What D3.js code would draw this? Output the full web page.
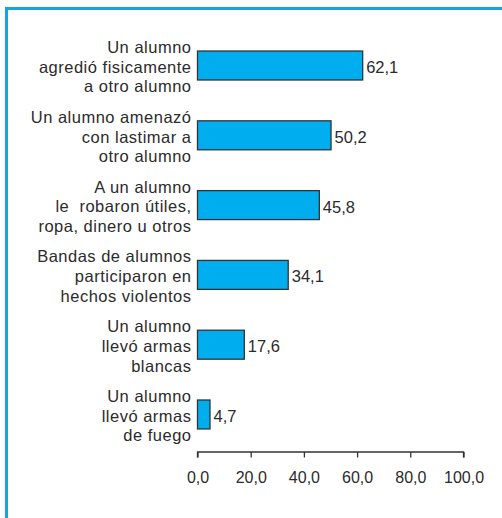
<!DOCTYPE html>
<head>
    <script src="https://d3js.org/d3.v7.min.js"></script>
</head>
<style>
body {
    margin: 0;
    font-family: "Liberation Sans", Arial, Helvetica, sans-serif;
}
text {
    fill: #2b2b2b;
}
.lbl {
    white-space: pre;
    letter-spacing: 0.5px;
}
</style>
<body>
    <svg></svg>
</body>
<script>

    // Data
    var labels = [
        ["Un alumno", "agredió fisicamente", "a otro alumno"],
        ["Un alumno amenazó", "con lastimar a", "otro alumno"],
        ["A un alumno", "le  robaron útiles,", "ropa, dinero u otros"],
        ["Bandas de alumnos", "participaron en", "hechos violentos"],
        ["Un alumno", "llevó armas", "blancas"],
        ["Un alumno", "llevó armas", "de fuego"]
    ];
    var values = [62.1, 50.2, 45.8, 34.1, 17.6, 4.7];
    var ticks = [0, 20, 40, 60, 80, 100];

    var width = 502;
    var height = 518;
    var blue = "#00aeef";

    var svg = d3.select('svg')
        .attr('width', width)
        .attr('height', height);

    // frame: top and left rules
    svg.append('line').attr('x1', 5).attr('x2', width).attr('y1', 8.5).attr('y2', 8.5)
        .attr('stroke', '#14a5e0').attr('stroke-width', 3);
    svg.append('line').attr('x1', 6.5).attr('x2', 6.5).attr('y1', 7).attr('y2', height)
        .attr('stroke', '#14a5e0').attr('stroke-width', 3);

    var x = d3.scaleLinear().domain([0, 100]).range([197.5, 463.5]);
    var y = d3.scaleBand().domain(d3.range(values.length))
        .range([25.2, 454.8]).paddingInner(0.585).paddingOuter(0.37);

    var fmt = function (v) { return d3.format(".1f")(v).replace(".", ","); };

    var g = svg.append('g');

    g.selectAll('rect.bar').data(values).enter().append('rect')
        .attr('class', 'bar')
        .attr('x', x(0))
        .attr('y', function (d, i) { return y(i); })
        .attr('width', function (d) { return x(d) - x(0); })
        .attr('height', y.bandwidth())
        .attr('fill', blue)
        .attr('stroke', '#333')
        .attr('stroke-width', 1.3);

    g.selectAll('text.val').data(values).enter().append('text')
        .attr('class', 'val')
        .attr('x', function (d) { return x(d) + 3.5; })
        .attr('y', function (d, i) { return y(i) + y.bandwidth() / 2 + 7.5; })
        .style('font-size', '16.5px')
        .text(fmt);

    // category labels, three lines each
    var lab = g.selectAll('text.lbl').data(labels).enter().append('text')
        .attr('class', 'lbl')
        .attr('text-anchor', 'end')
        .style('font-size', '16.5px')
        .attr('y', function (d, i) { return y(i) + y.bandwidth() / 2; });
    lab.selectAll('tspan').data(function (d) { return d; }).enter().append('tspan')
        .attr('x', 191.5)
        .attr('dy', function (d, i) { return i === 0 ? -12.5 : 19.7; })
        .text(function (d) { return d; });

    // axis
    var axis = d3.axisBottom(x).tickValues(ticks).tickSize(5.5).tickPadding(14).tickFormat(fmt);
    var ax = g.append('g').attr('transform', 'translate(0,452)').call(axis);
    ax.select('.domain').attr('stroke', '#333').attr('stroke-width', 1.3)
        .attr('d', 'M' + x(0) + ',5.5V0H' + x(100) + 'V5.5');
    ax.selectAll('.tick line').attr('stroke', '#333').attr('stroke-width', 1.3);
    ax.selectAll('.tick text').style('font-size', '16px')
        .style('font-family', '"Liberation Sans", Arial, sans-serif').attr('fill', '#2b2b2b');

</script>
